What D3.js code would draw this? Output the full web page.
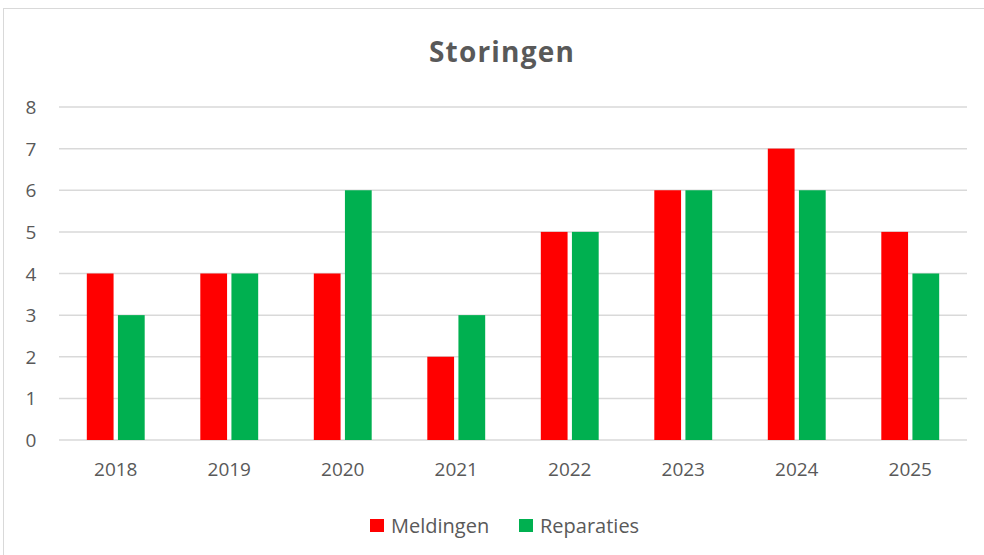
<!DOCTYPE html>
<html>
<head>
<meta charset="utf-8">
<script src="https://cdn.jsdelivr.net/npm/d3@7"></script>
<style>
  body { margin: 0; background: #fff; }
  text { font-family: "Open Sans", "Noto Sans", sans-serif; fill: #595959; }
</style>
</head>
<body>
<div id="chart"></div>
<script>
const years = ["2018", "2019", "2020", "2021", "2022", "2023", "2024", "2025"];
const meldingen = [4, 4, 4, 2, 5, 6, 7, 5];
const reparaties = [3, 4, 6, 3, 5, 6, 6, 4];
const seriesNames = ["Meldingen", "Reparaties"];
const seriesColors = ["#ff0000", "#00b050"];
const yTicks = [0, 1, 2, 3, 4, 5, 6, 7, 8];

const width = 984, height = 555;
const margin = { top: 107, right: 17, bottom: 115, left: 59 };

const svg = d3.select("#chart").append("svg")
    .attr("width", width)
    .attr("height", height);

// chart frame
svg.append("rect")
    .attr("x", 3.5).attr("y", 8.5)
    .attr("width", width + 10).attr("height", height + 10)
    .attr("fill", "none")
    .attr("stroke", "#d9d9d9");

svg.append("text")
    .attr("x", 502).attr("y", 62)
    .attr("text-anchor", "middle")
    .style("font-size", "28px")
    .style("font-weight", "bold")
    .style("letter-spacing", "1.2px")
    .text("Storingen");

const table = years.map((y, i) => ({ year: y, values: [meldingen[i], reparaties[i]] }));

const x0 = d3.scaleBand()
    .domain(years)
    .range([margin.left, width - margin.right])
    .paddingInner(0.49)
    .paddingOuter(0.245);

const x1 = d3.scaleBand()
    .domain(d3.range(seriesNames.length))
    .range([0, x0.bandwidth()])
    .paddingInner(0.14);

const y = d3.scaleLinear()
    .domain([0, 8])
    .range([height - margin.bottom, margin.top]);

// gridlines
svg.append("g")
    .selectAll("line")
    .data(yTicks)
    .enter().append("line")
    .attr("x1", margin.left)
    .attr("x2", width - margin.right)
    .attr("y1", d => y(d))
    .attr("y2", d => y(d))
    .attr("stroke", "#d9d9d9")
    .attr("stroke-width", 1.5);

// y labels
svg.append("g")
    .selectAll("text")
    .data(yTicks)
    .enter().append("text")
    .attr("x", 31)
    .attr("y", d => y(d) + 7)
    .attr("text-anchor", "middle")
    .style("font-size", "19px")
    .text(d => d);

// bars
const groups = svg.append("g")
    .selectAll("g")
    .data(table)
    .enter().append("g")
    .attr("transform", d => `translate(${x0(d.year)},0)`);

groups.selectAll("rect")
    .data(d => d.values)
    .enter().append("rect")
    .attr("x", (d, i) => x1(i))
    .attr("y", d => y(d))
    .attr("width", x1.bandwidth())
    .attr("height", d => y(0) - y(d))
    .attr("fill", (d, i) => seriesColors[i]);

// x labels
svg.append("g")
    .selectAll("text")
    .data(years)
    .enter().append("text")
    .attr("x", d => x0(d) + x0.bandwidth() / 2)
    .attr("y", 476)
    .attr("text-anchor", "middle")
    .style("font-size", "19px")
    .text(d => d);

// legend
const legendX = [370, 519];
const legend = svg.append("g")
    .selectAll("g")
    .data(seriesNames)
    .enter().append("g")
    .attr("transform", (d, i) => `translate(${legendX[i]},519)`);

legend.append("rect")
    .attr("width", 14).attr("height", 13)
    .attr("fill", (d, i) => seriesColors[i]);

legend.append("text")
    .attr("x", 21).attr("y", 14)
    .style("font-size", "20px")
    .text(d => d);
</script>
</body>
</html>
